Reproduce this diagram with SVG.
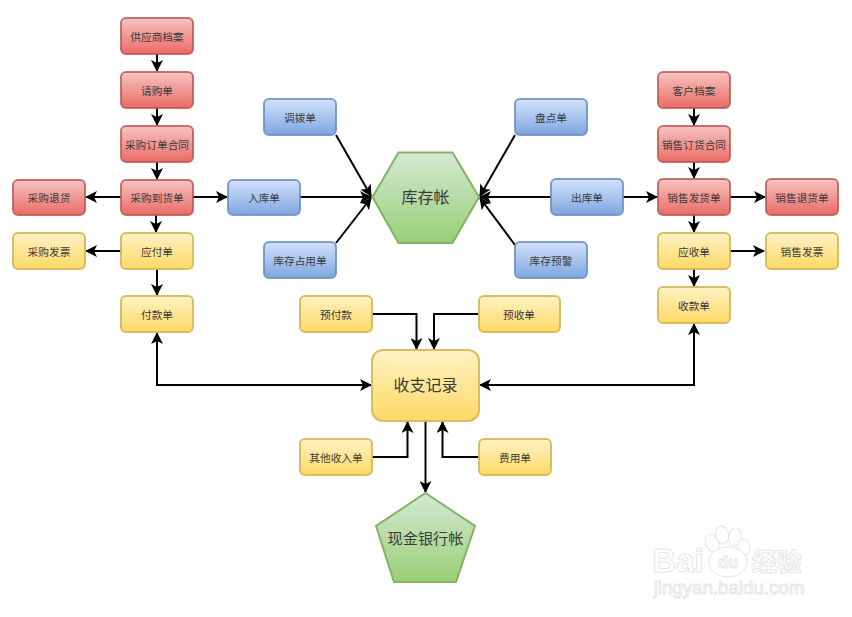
<svg xmlns="http://www.w3.org/2000/svg" width="852" height="617" viewBox="0 0 852 617">
<style>
text{font-family:"Noto Sans CJK SC","Liberation Sans",sans-serif;text-anchor:middle;dominant-baseline:central;fill:#3a3a3a}
.s text{font-size:10.7px}
.b{font-size:16px}
.c{font-size:15.2px}
.r{fill:url(#red);stroke:#b85450;stroke-width:2;stroke-opacity:.8}
.y{fill:url(#yel);stroke:#d6b656;stroke-width:2;stroke-opacity:.9}
.u{fill:url(#blu);stroke:#6c8ebf;stroke-width:2;stroke-opacity:.85}
.g{fill:url(#gre);stroke:#82b366;stroke-width:2}
#connectors path{fill:none;stroke:#000;stroke-width:2;marker-end:url(#arr)}
#connectors path.both{marker-start:url(#arr)}
#watermark text{fill:#fff;stroke:#e6e6e6;stroke-width:1}
#watermark ellipse{fill:#fff;stroke:#e6e6e6;stroke-width:1}
</style>
<defs>
<linearGradient id="red" x1="0" y1="0" x2="0" y2="1"><stop offset="0" stop-color="#f8c4c2"/><stop offset="1" stop-color="#ea6b66"/></linearGradient>
<linearGradient id="yel" x1="0" y1="0" x2="0" y2="1"><stop offset="0" stop-color="#fff2c4"/><stop offset="1" stop-color="#ffd966"/></linearGradient>
<linearGradient id="blu" x1="0" y1="0" x2="0" y2="1"><stop offset="0" stop-color="#d2e2fa"/><stop offset="1" stop-color="#7ea6e0"/></linearGradient>
<linearGradient id="gre" x1="0" y1="0" x2="0" y2="1"><stop offset="0" stop-color="#d5e8d4"/><stop offset="1" stop-color="#97d077"/></linearGradient>
<marker id="arr" viewBox="0 0 12 12" refX="11" refY="6" markerWidth="12" markerHeight="12" markerUnits="userSpaceOnUse" orient="auto-start-reverse"><path d="M0 0L12 6L0 12L3 6Z" fill="#000"/></marker>
</defs>
<rect width="852" height="617" fill="#fff"/>
<g id="connectors">
<path d="M157 54V71"/><path d="M157 108V125"/><path d="M157 162V179"/>
<path d="M121 197H86"/><path d="M193 197H227"/><path d="M156 215V232"/>
<path d="M121 251H86"/><path d="M157 269V295"/>
<path d="M336 135L371 196"/><path d="M300 197H371"/><path d="M336 243L371 198"/>
<path d="M515 135L480 196"/><path d="M551 197H480"/><path d="M515 245L480 198"/>
<path d="M623 197H657"/><path d="M694 108V125"/><path d="M694 162V178"/>
<path d="M730 197H765"/><path d="M694 215V232"/><path d="M730 251H764"/><path d="M694 269V286"/>
<path d="M372 314H416.500V349"/><path d="M479 314H434V349"/>
<path d="M372 457H407.500V422"/><path d="M479 457H442.500V422"/>
<path d="M425.500 421V492"/>
<path class="both" d="M371 385H157V333"/>
<path class="both" d="M480 385H694V324"/>
</g>
<g class="s">
<g id="n1"><rect class="r" x="121" y="18" width="72" height="36" rx="5"/><text x="157" y="36">供应商档案</text></g>
<g id="n2"><rect class="r" x="121" y="72" width="72" height="36" rx="5"/><text x="157" y="90">请购单</text></g>
<g id="n3"><rect class="r" x="121" y="126" width="72" height="36" rx="5"/><text x="157" y="144">采购订单合同</text></g>
<g id="n4"><rect class="r" x="121" y="180" width="72" height="35" rx="5"/><text x="157" y="197">采购到货单</text></g>
<g id="n5"><rect class="r" x="13" y="180" width="72" height="35" rx="5"/><text x="49" y="197">采购退货</text></g>
<g id="n6"><rect class="y" x="121" y="233" width="72" height="36" rx="5"/><text x="157" y="251">应付单</text></g>
<g id="n7"><rect class="y" x="13" y="233" width="72" height="36" rx="5"/><text x="49" y="251">采购发票</text></g>
<g id="n8"><rect class="y" x="121" y="296" width="72" height="36" rx="5"/><text x="157" y="314">付款单</text></g>
<g id="n9"><rect class="u" x="228" y="180" width="72" height="35" rx="5"/><text x="264" y="197">入库单</text></g>
<g id="n10"><rect class="u" x="264" y="99" width="72" height="36" rx="5"/><text x="300" y="117">调拨单</text></g>
<g id="n11"><rect class="u" x="264" y="242" width="72" height="36" rx="5"/><text x="300" y="260">库存占用单</text></g>
<g id="n12"><rect class="u" x="515" y="99" width="72" height="36" rx="5"/><text x="551" y="117">盘点单</text></g>
<g id="n13"><rect class="u" x="551" y="179" width="72" height="36" rx="5"/><text x="587" y="197">出库单</text></g>
<g id="n14"><rect class="u" x="515" y="242" width="72" height="36" rx="5"/><text x="551" y="260">库存预警</text></g>
<g id="n15"><rect class="r" x="658" y="72" width="72" height="36" rx="5"/><text x="694" y="90">客户档案</text></g>
<g id="n16"><rect class="r" x="658" y="126" width="72" height="36" rx="5"/><text x="694" y="144">销售订货合同</text></g>
<g id="n17"><rect class="r" x="658" y="179" width="72" height="36" rx="5"/><text x="694" y="197">销售发货单</text></g>
<g id="n18"><rect class="r" x="766" y="179" width="72" height="36" rx="5"/><text x="802" y="197">销售退货单</text></g>
<g id="n19"><rect class="y" x="658" y="233" width="72" height="36" rx="5"/><text x="694" y="251">应收单</text></g>
<g id="n20"><rect class="y" x="766" y="233" width="72" height="36" rx="5"/><text x="802" y="251">销售发票</text></g>
<g id="n21"><rect class="y" x="658" y="287" width="72" height="36" rx="5"/><text x="694" y="305">收款单</text></g>
<g id="n22"><rect class="y" x="300" y="296" width="72" height="36" rx="5"/><text x="336" y="314">预付款</text></g>
<g id="n23"><rect class="y" x="479" y="296" width="81" height="36" rx="5"/><text x="519" y="314">预收单</text></g>
<g id="n24"><rect class="y" x="300" y="439" width="72" height="36" rx="5"/><text x="336" y="457">其他收入单</text></g>
<g id="n25"><rect class="y" x="479" y="439" width="72" height="36" rx="5"/><text x="515" y="457">费用单</text></g>
</g>
<g id="n26"><polygon class="g" points="372.500,197 398.500,152.500 452.500,152.500 479,197 452.500,243 398.500,243"/><text class="b" x="425.500" y="196">库存帐</text></g>
<g id="n27"><rect class="y" x="372" y="350" width="107" height="71" rx="11"/><text class="b" x="425.500" y="384">收支记录</text></g>
<g id="n28"><polygon class="g" points="425.500,493 475,526 456,582 394,582 376,526"/><text class="c" x="425.500" y="537">现金银行帐</text></g>
<g id="watermark">
<ellipse cx="712" cy="543" rx="6.500" ry="9" transform="rotate(-25 712 543)"/>
<ellipse cx="722" cy="535" rx="6.500" ry="9" transform="rotate(-8 722 535)"/>
<ellipse cx="735" cy="537" rx="6.500" ry="9" transform="rotate(8 735 537)"/>
<ellipse cx="744" cy="547" rx="6" ry="8" transform="rotate(-15 744 547)"/>
<ellipse cx="728" cy="562" rx="19" ry="15"/>
<text x="678" y="560" style="font:700 33px 'Liberation Sans',sans-serif">Bai</text>
<text x="728" y="562" style="font:700 17px 'Liberation Sans',sans-serif">du</text>
<text x="777" y="560" style="font-size:25px;font-weight:700">经验</text>
<text x="729" y="587" style="font:18.700px 'Liberation Sans',sans-serif">jingyan.baidu.com</text>
</g>
</svg>
